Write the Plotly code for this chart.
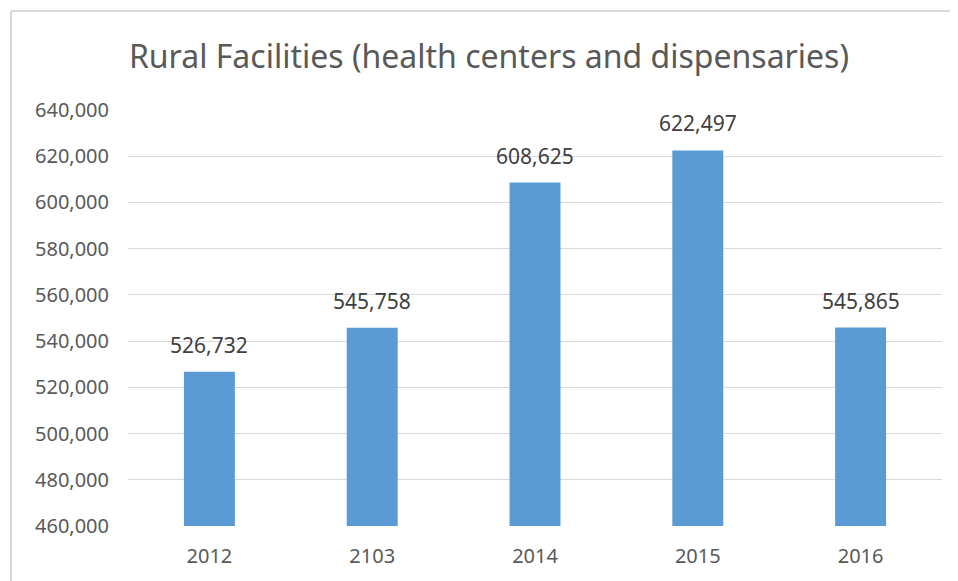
import plotly.graph_objects as go

years = ["2012", "2103", "2014", "2015", "2016"]
values = [526732, 545758, 608625, 622497, 545865]
tick_vals = [460000, 480000, 500000, 520000, 540000, 560000, 580000, 600000, 620000, 640000]

OFF = 8  # default page body margin
W, H = 958 - OFF, 581 - OFF
L, R, T, B = 128 - OFF, 16, 110 - OFF, 55
pw, ph = W - L - R, H - T - B

def px(x):
    return (x - OFF - L) / pw

def py(y):
    return (H - B - (y - OFF)) / ph

fig = go.Figure(go.Bar(
    x=years, y=values,
    marker=dict(color="#5b9bd5", line=dict(width=0)),
))

for i, v in enumerate(values):
    fig.add_annotation(x=i, y=v, text=f"{v:,}", showarrow=False,
                       yanchor="bottom", yshift=11,
                       font=dict(size=21, color="#404040", family="Noto Sans"))

fig.update_layout(
    width=W, height=H,
    margin=dict(l=L, r=R, t=T, b=B),
    plot_bgcolor="white", paper_bgcolor="white",
    bargap=0.687,
    showlegend=False,
    title=dict(text="Rural Facilities (health centers and dispensaries)",
               x=(489 - OFF) / W, xanchor="center", y=1 - (57 - OFF) / H, yanchor="middle",
               font=dict(size=32, color="#595959", family="Noto Sans")),
    font=dict(family="Noto Sans", color="#595959", size=20),
    xaxis=dict(type="category", range=[-0.5, len(years) - 0.5], showgrid=False, showline=False,
               ticks="", ticklabelstandoff=16,
               tickfont=dict(size=20, color="#595959")),
    yaxis=dict(range=[460000, 640000], tickvals=tick_vals,
               ticktext=[f"{v:,}" for v in tick_vals],
               showgrid=True, gridcolor="#d9d9d9", gridwidth=1,
               zeroline=False, showline=False, ticks="", ticklabelstandoff=18,
               tickfont=dict(size=20, color="#595959")),
    shapes=[
        dict(type="line", xref="paper", yref="paper", x0=px(11), x1=px(980), y0=py(11), y1=py(11),
             line=dict(color="#d9d9d9", width=2)),
        dict(type="line", xref="paper", yref="paper", x0=px(11), x1=px(11), y0=py(11), y1=py(600),
             line=dict(color="#d9d9d9", width=2)),
    ],
)

fig.write_html("out.html")
